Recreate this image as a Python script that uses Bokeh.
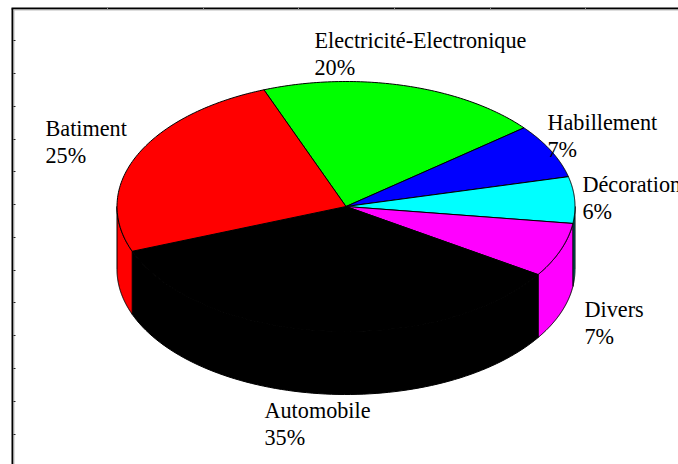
import numpy as np
from bokeh.plotting import figure
from bokeh.models import Range1d
from bokeh.core.properties import value
from bokeh.embed import file_html
from bokeh.resources import INLINE

categories = ["Electricité-Electronique", "Habillement", "Décoration", "Divers", "Automobile", "Batiment"]
shares = [20, 7, 6, 7, 35, 25]
colors = ["#00ff00", "#0000ff", "#00ffff", "#ff00ff", "#000000", "#ff0000"]
side_colors = ["#00ff00", "#0000ff", "#008080", "#ff00ff", "#000000", "#ff0000"]
label_x = [314, 547, 582, 584, 264, 45]
label_y = [53.5, 135.5, 197.5, 322.5, 423.5, 141.5]
x_ticks = [107, 203, 298, 394, 490, 585]
y_ticks = [40, 73, 106, 139, 171, 204, 237, 270, 302, 335, 368, 401, 434]

CX, CY, RX, RY, DEPTH = 345.5, 206, 229, 125, 63
START = 111.0
W, H = 678, 464

p = figure(width=W, height=H, output_backend="svg", toolbar_location=None,
           x_range=Range1d(0, W), y_range=Range1d(H, 0),
           min_border=0, outline_line_color=None, background_fill_color="white",
           border_fill_color="white")
p.axis.visible = False
p.grid.visible = False

def arc(a0, a1, n=80):
    t = np.radians(np.linspace(a0, a1, n))
    return CX + RX * np.cos(t), CY - RY * np.sin(t)

edges = START - np.cumsum([0] + shares) * 3.6

# sides of the drum: only the part of each slice on the lower half of the ellipse
for i, (a, b) in enumerate(zip(edges[:-1], edges[1:])):
    hi = a % 360
    lo = hi - (a - b)
    for shift in (0, 360, -360):
        s, e = max(lo + shift, 180), min(hi + shift, 360)
        if e > s:
            x, y = arc(s, e)
            xs = list(x) + list(x[::-1])
            ys = list(y) + list((y + DEPTH)[::-1])
            p.patch(xs, ys, fill_color=side_colors[i], line_color="black", line_width=1)

# top faces
for i, (a, b) in enumerate(zip(edges[:-1], edges[1:])):
    x, y = arc(a, b)
    xs = [CX] + list(x) + [CX]
    ys = [CY] + list(y) + [CY]
    p.patch(xs, ys, fill_color=colors[i], line_color="black", line_width=1)

# frame with short ticks
p.line([12, 12], [H, 8], line_color="black", line_width=2)
p.line([11, W], [8, 8], line_color="black", line_width=2)
p.line([13.5, 13.5], [9, H], line_color="#bbbbbb", line_width=1)
p.line([13, W], [9.5, 9.5], line_color="#bbbbbb", line_width=1)
p.segment(x0=[13] * len(y_ticks), y0=y_ticks, x1=[15] * len(y_ticks), y1=y_ticks,
          line_color="#222222", line_width=1)
p.segment(x0=x_ticks, y0=[7] * len(x_ticks), x1=x_ticks, y1=[9] * len(x_ticks),
          line_color="#888888", line_width=1)

labels = [f"{c}\n{v}%" for c, v in zip(categories, shares)]
p.text(x=label_x, y=label_y, text=labels, text_font=value("Liberation Serif"),
       text_font_size="22.2px", text_color="black", text_align="left",
       text_baseline="middle", text_line_height=1.08)

open("out.html", "w").write(file_html(p, INLINE))
